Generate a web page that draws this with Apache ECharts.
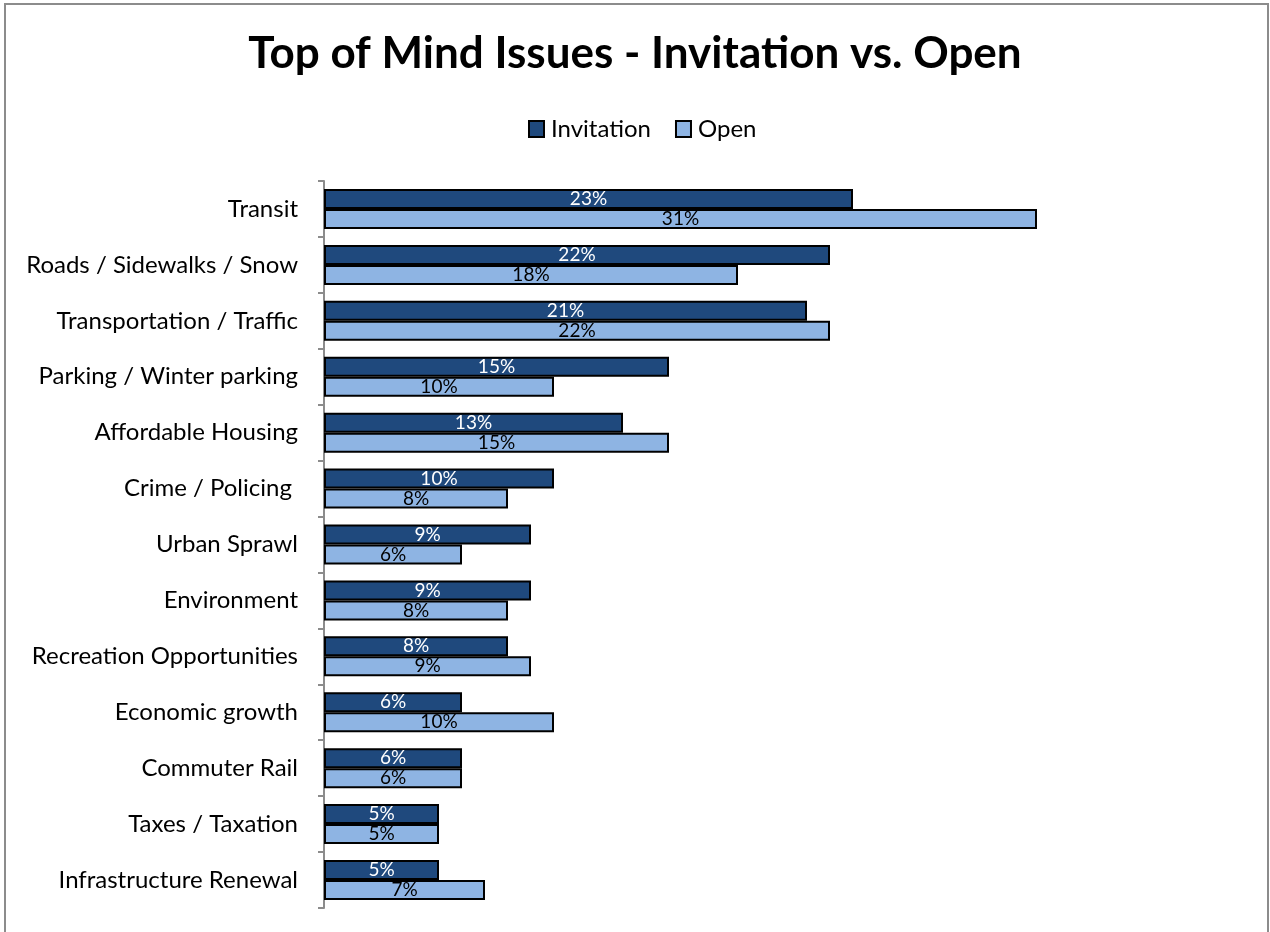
<!DOCTYPE html>
<html>
<head>
<meta charset="utf-8">
<script src="https://cdn.jsdelivr.net/npm/echarts@6/dist/echarts.min.js"></script>
<style>
  html, body { margin: 0; padding: 0; background: #fff; }
  #chart { width: 1270px; height: 932px; }
</style>
</head>
<body>
<div id="chart"></div>
<script>
const categories = [
  'Transit',
  'Roads / Sidewalks / Snow',
  'Transportation / Traffic',
  'Parking / Winter parking',
  'Affordable Housing',
  'Crime / Policing ',
  'Urban Sprawl',
  'Environment',
  'Recreation Opportunities',
  'Economic growth',
  'Commuter Rail',
  'Taxes / Taxation',
  'Infrastructure Renewal'
]
const invitation = [23, 22, 21, 15, 13, 10, 9, 9, 8, 6, 6, 5, 5]
const open = [31, 18, 22, 10, 15, 8, 6, 8, 9, 10, 6, 5, 7]

const font = 'Lato, "Open Sans", sans-serif'

const chart = echarts.init(document.getElementById('chart'))

chart.setOption({
  animation: false,
  title: {
    text: 'Top of Mind Issues - Invitation vs. Open',
    left: 'center',
    top: 27,
    textStyle: { fontFamily: font, fontSize: 44, fontWeight: 'bold', color: '#000' }
  },
  legend: {
    top: 112,
    left: 523,
    itemWidth: 15,
    itemHeight: 16,
    itemGap: 24,
    icon: 'rect',
    textStyle: { fontFamily: font, fontSize: 24, color: '#000', padding: [0, 0, 0, 2] },
    data: ['Invitation', 'Open']
  },
  graphic: [{
    type: 'rect',
    shape: { x: 5, y: 4, width: 1263, height: 980 },
    style: { fill: 'none', stroke: '#8c8c8c', lineWidth: 2 },
    silent: true
  }],
  grid: { left: 324, right: 26, top: 181, bottom: 24, containLabel: false },
  xAxis: {
    type: 'value',
    min: 0,
    max: 40,
    show: false
  },
  yAxis: {
    type: 'category',
    inverse: true,
    data: categories,
    axisLine: { show: true, lineStyle: { color: '#8c8c8c', width: 2 } },
    axisTick: { show: true, inside: false, alignWithLabel: false, length: 6, lineStyle: { color: '#8c8c8c', width: 2 } },
    axisLabel: { margin: 26, fontFamily: font, fontSize: 24, color: '#000' }
  },
  series: [
    {
      name: 'Invitation',
      type: 'bar',
      data: invitation,
      barWidth: 20,
      barGap: '0%',
      itemStyle: { color: '#1f497d', borderColor: '#000', borderWidth: 2 },
      label: {
        show: true,
        position: 'inside',
        formatter: '{c}%',
        fontFamily: font,
        fontSize: 19,
        color: '#fff'
      }
    },
    {
      name: 'Open',
      type: 'bar',
      data: open,
      barWidth: 20,
      itemStyle: { color: '#8eb4e3', borderColor: '#000', borderWidth: 2 },
      label: {
        show: true,
        position: 'inside',
        formatter: '{c}%',
        fontFamily: font,
        fontSize: 19,
        color: '#000'
      }
    }
  ]
})

window.addEventListener('resize', () => {
  chart.resize()
})
</script>
</body>
</html>
